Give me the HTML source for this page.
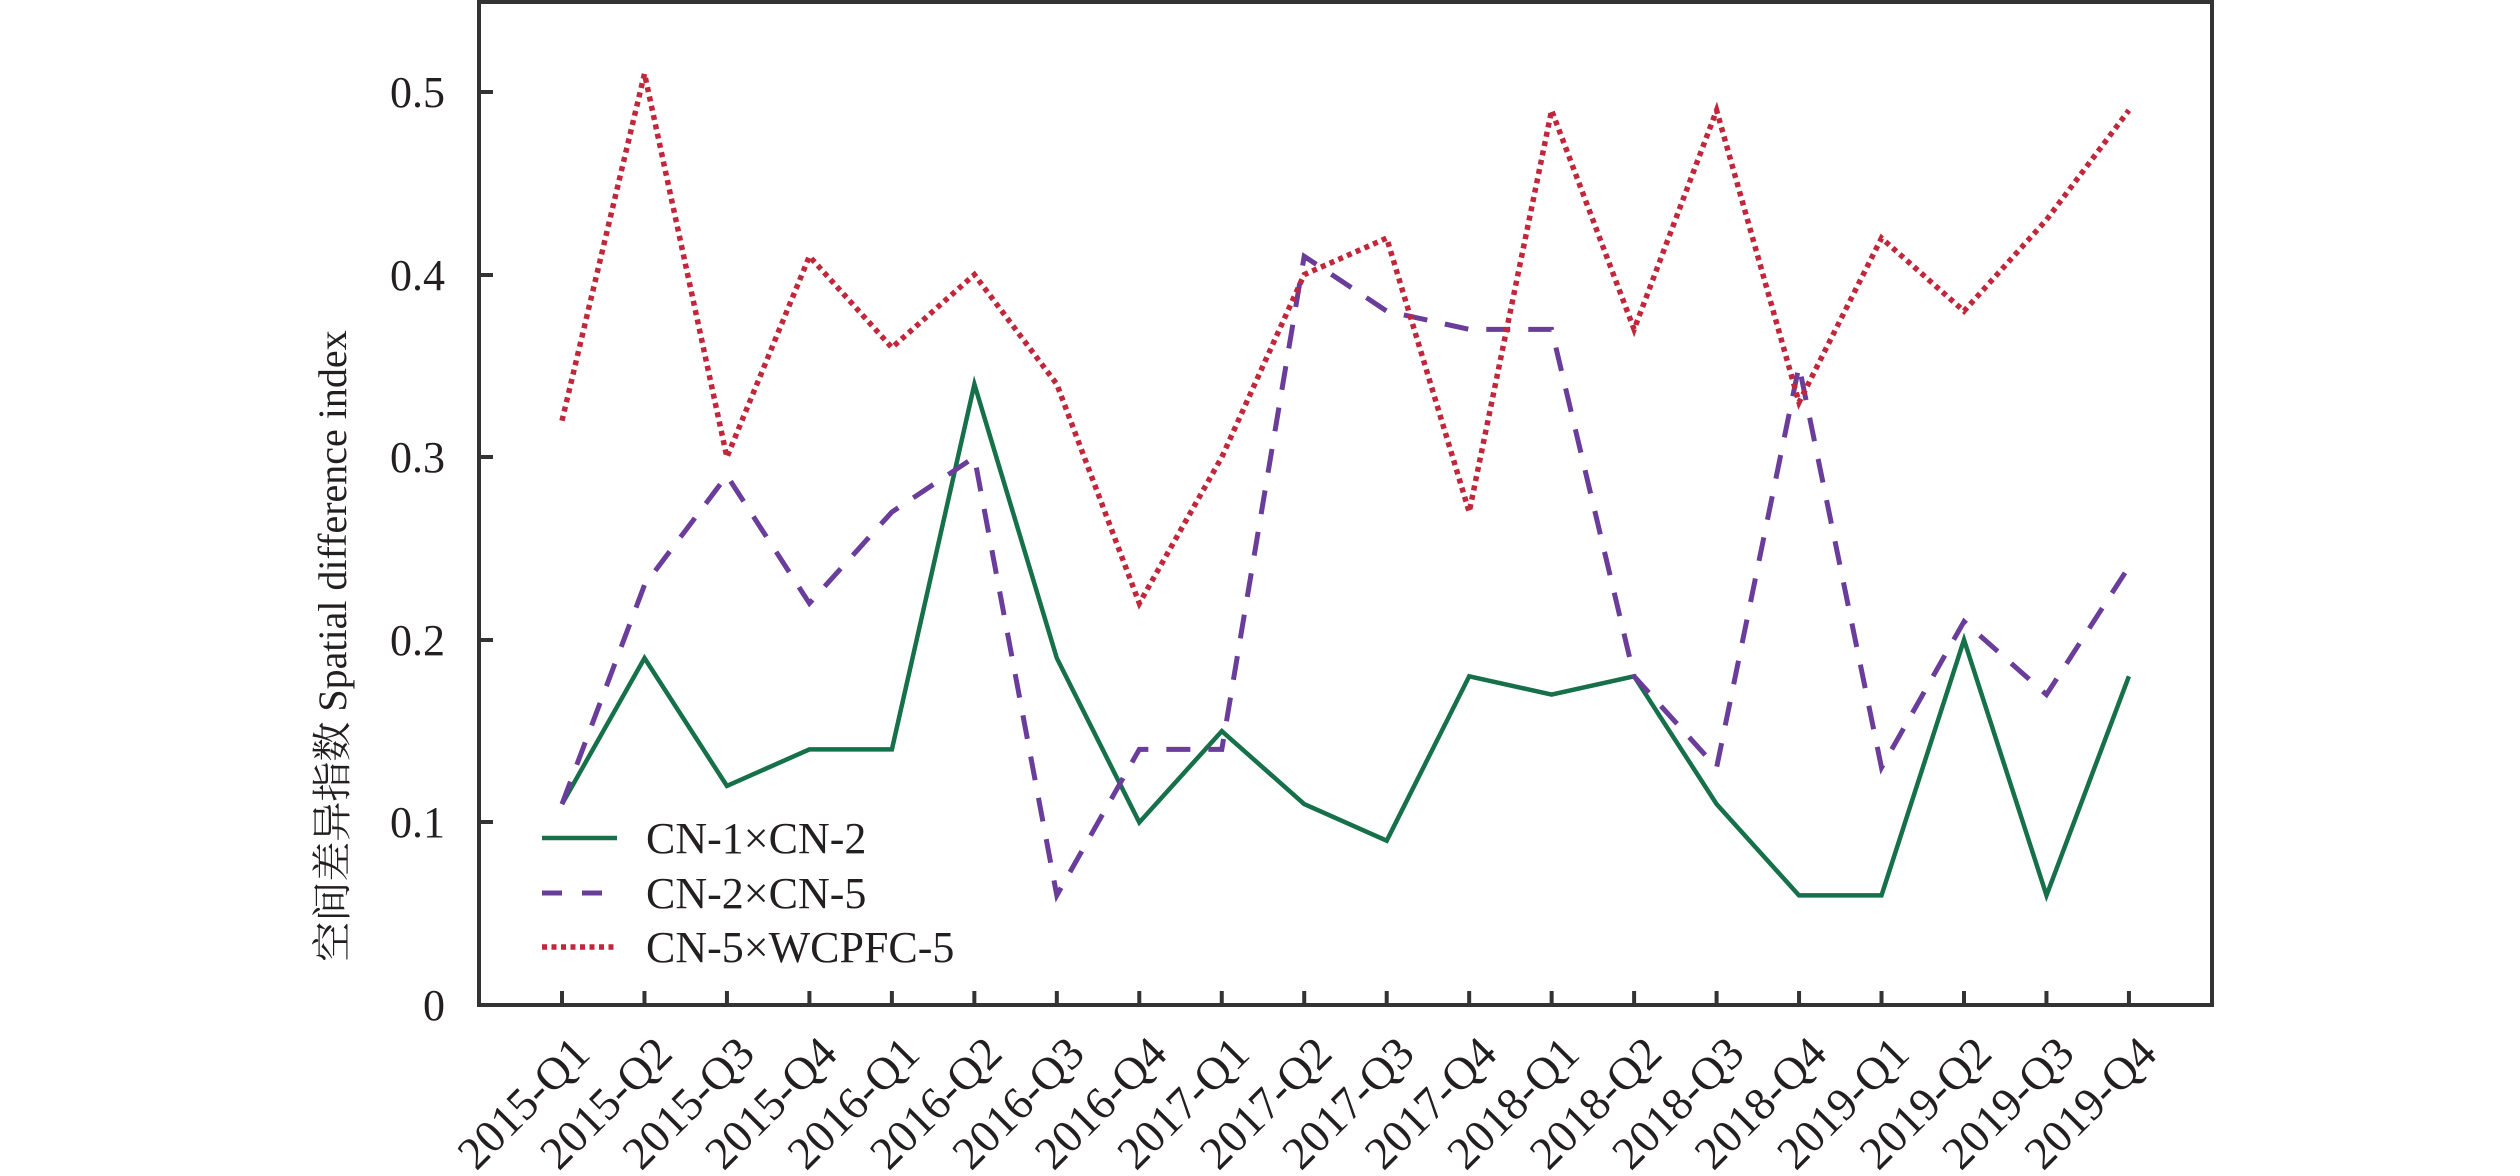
<!DOCTYPE html>
<html><head><meta charset="utf-8"><style>html,body{margin:0;padding:0;background:#fff}svg{display:block}</style></head>
<body>
<svg width="2520" height="1176" viewBox="0 0 2520 1176" xmlns="http://www.w3.org/2000/svg" font-family="'Liberation Serif','Noto Serif CJK SC',serif" fill="#231f20">
<rect x="479" y="2" width="1733" height="1003" fill="none" stroke="#333" stroke-width="4"/>
<g stroke="#333" stroke-width="4">
<line x1="479" y1="92" x2="493" y2="92"/><line x1="479" y1="275" x2="493" y2="275"/><line x1="479" y1="457" x2="493" y2="457"/><line x1="479" y1="640" x2="493" y2="640"/><line x1="479" y1="822" x2="493" y2="822"/>
</g>
<g font-size="44" text-anchor="end">
<text x="445" y="107">0.5</text><text x="445" y="290">0.4</text><text x="445" y="472">0.3</text><text x="445" y="655">0.2</text><text x="445" y="837">0.1</text><text x="445" y="1020">0</text>
</g>
<text transform="translate(346,646) rotate(-90)" font-size="40" text-anchor="middle">空间差异指数 Spatial difference index</text>
<g id="ticks" stroke="#333" stroke-width="4"></g>
<g id="xl" font-size="46" text-anchor="end"></g>
<polyline id="g" fill="none" stroke="#16704a" stroke-width="4.5" stroke-linejoin="miter"/>
<polyline id="p" fill="none" stroke="#6a3d9a" stroke-width="5" stroke-dasharray="24 18"/>
<polyline id="r" fill="none" stroke="#c1273a" stroke-width="5.5" stroke-dasharray="5 4.5"/>
<line x1="542" y1="838" x2="617" y2="838" stroke="#16704a" stroke-width="4.5"/>
<line x1="542" y1="893" x2="617" y2="893" stroke="#6a3d9a" stroke-width="5" stroke-dasharray="20 20"/>
<line x1="542" y1="947" x2="617" y2="947" stroke="#c1273a" stroke-width="5.5" stroke-dasharray="5 4.5"/>
<g font-size="44">
<text x="646" y="853">CN-1×CN-2</text><text x="646" y="908">CN-2×CN-5</text><text x="646" y="962">CN-5×WCPFC-5</text>
</g>
<script>
var g=[.11,.19,.12,.14,.14,.34,.19,.10,.15,.11,.09,.18,.17,.18,.11,.06,.06,.20,.06,.18];
var p=[.11,.23,.29,.22,.27,.30,.06,.14,.14,.41,.38,.37,.37,.18,.13,.35,.13,.21,.17,.24];
var r=[.32,.51,.30,.41,.36,.40,.34,.22,.30,.40,.42,.27,.49,.37,.49,.33,.42,.38,.43,.49];
var labs=[];for(var y=2015;y<=2019;y++)for(var q=1;q<=4;q++)labs.push(y+"-Q"+q);
function X(i){return 562+i*82.47}function Y(v){return 1005-v*1826}
function pts(a){return a.map(function(v,i){return X(i).toFixed(1)+","+Y(v).toFixed(1)}).join(" ")}
document.getElementById("g").setAttribute("points",pts(g));
document.getElementById("p").setAttribute("points",pts(p));
document.getElementById("r").setAttribute("points",pts(r));
var ns="http://www.w3.org/2000/svg",t=document.getElementById("ticks"),xl=document.getElementById("xl");
labs.forEach(function(s,i){var x=X(i);
var l=document.createElementNS(ns,"line");l.setAttribute("x1",x);l.setAttribute("x2",x);l.setAttribute("y1",991);l.setAttribute("y2",1005);t.appendChild(l);
var tx=document.createElementNS(ns,"text");tx.setAttribute("transform","translate("+(x+30)+",1056) rotate(-45)");tx.textContent=s;xl.appendChild(tx);});
</script>
</svg>
</body></html>
